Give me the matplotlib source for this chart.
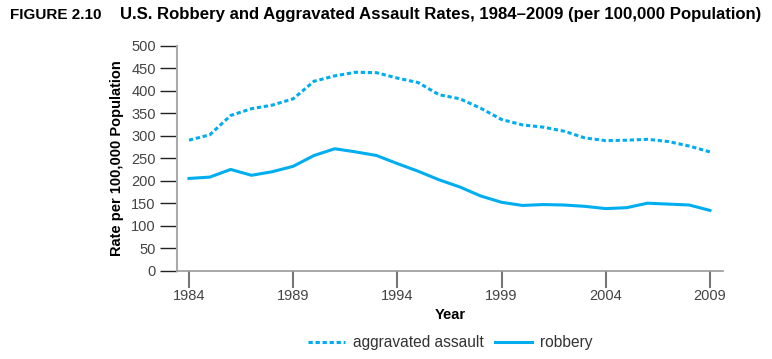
import matplotlib
matplotlib.use("Agg")
import matplotlib.pyplot as plt
from matplotlib.lines import Line2D

years = list(range(1984, 2010))
robbery = [205, 208, 225, 212, 220, 232, 256, 271, 264, 256, 238, 221, 202, 186, 166, 152, 145, 147, 146, 143, 138, 140, 150, 148, 146, 134]
assault = [290, 302, 345, 360, 368, 382, 421, 433, 441, 440, 428, 418, 391, 382, 361, 336, 324, 319, 310, 295, 289, 290, 292, 287, 277, 264]
xticks = [1984, 1989, 1994, 1999, 2004, 2009]
yticks = list(range(0, 501, 50))

title_fig = "FIGURE 2.10"
title_txt = "U.S. Robbery and Aggravated Assault Rates, 1984\u20132009 (per 100,000 Population)"

color = "#00AEEF"
plt.rcParams['font.family'] = ["Liberation Sans", "DejaVu Sans"]

fig = plt.figure(figsize=(7.72, 3.59), dpi=100)
ax = fig.add_axes([176.7/772, 1-270.7/359, (723.3-176.7)/772, (270.7-45.7)/359])

dots = (0, (1.4, 0.9))
ax.plot(years, assault, color=color, lw=2.2, linestyle=dots, dash_capstyle='butt')
ax.plot(years, robbery, color=color, lw=2.2, solid_joinstyle='round')

ax.set_xlim(1983.41, 2009.64)
ax.set_ylim(0, 500)
ax.set_xticks(xticks)
ax.set_yticks(yticks)
ax.tick_params(axis='y', length=12, width=1, color='#222222', labelsize=10.5, labelcolor='#444444', pad=3)
ax.tick_params(axis='x', length=12, width=1.5, color='#777777', labelsize=10.5, labelcolor='#444444', pad=1.5)
for s in ['top', 'right']:
    ax.spines[s].set_visible(False)
ax.spines['left'].set_color('#aaaaaa')
ax.spines['left'].set_linewidth(1.5)
ax.spines['bottom'].set_color('#999999')
ax.spines['bottom'].set_linewidth(1.2)

ax.set_ylabel("Rate per 100,000 Population", fontsize=10.5, fontweight='bold', labelpad=5)
ax.set_xlabel("Year", fontsize=10.5, fontweight='bold', labelpad=3)

fig.text(10/772, 1-15/359, title_fig, fontsize=11, fontweight='bold', va='center', ha='left')
fig.text(120/772, 1-15/359, title_txt, fontsize=12.1, fontweight='bold', va='center', ha='left')

handles = [Line2D([], [], color=color, lw=2.2, linestyle=dots),
           Line2D([], [], color=color, lw=2.2)]
fig.legend(handles, ["aggravated assault", "robbery"], loc='center', bbox_to_anchor=(450/772, 1-343/359),
           ncol=2, frameon=False, fontsize=11.2, handlelength=2.4, handletextpad=0.5, columnspacing=0.7,
           labelcolor='#333333')

fig.savefig("out.png", dpi=100)
